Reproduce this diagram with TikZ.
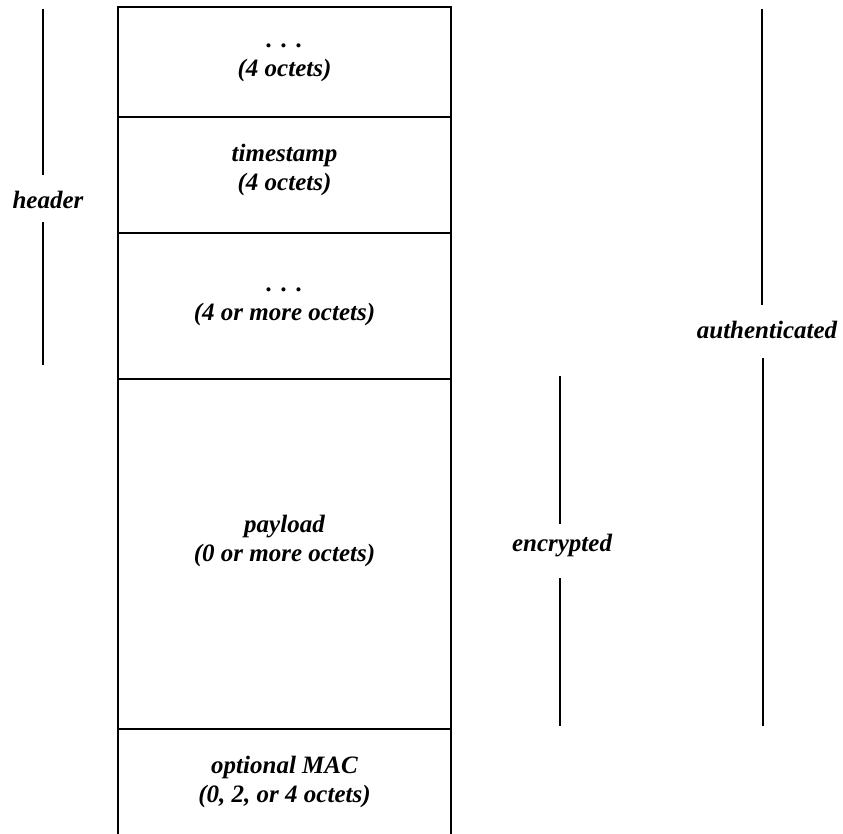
\documentclass[tikz,border=0pt]{standalone}
\usepackage{fontspec}
\setmainfont{Liberation Serif}
\begin{document}
\begin{tikzpicture}[x=1pt,y=-1pt,
  lbl/.style={font=\fontsize{25}{29}\selectfont\bfseries\itshape, align=center, inner sep=0pt},
  cell/.style={draw, line width=1.8pt, minimum width=333pt, inner sep=0pt},
  cellopen/.style={minimum width=333pt, inner sep=0pt},
  bracket/.style={line width=1.4pt}]
\useasboundingbox (0,0) rectangle (843,834);
% cells
\node[cell, minimum height=110pt] (c1) at (284.5,62) {};
\node[cell, minimum height=116pt] (c2) at (284.5,175) {};
\node[cell, minimum height=146pt] (c3) at (284.5,306) {};
\node[cell, minimum height=350pt] (c4) at (284.5,554) {};
\node[cellopen, minimum height=111pt] (c5) at (284.5,784.5) {};
\draw[line width=1.8pt] (c5.south west) -- (c5.north west) -- (c5.north east) -- (c5.south east);
% texts
\node[lbl] (t1) at (284.5,63) {.\hspace{0.35em}.\hspace{0.35em}.\\(4 octets)};
\node[lbl] (t2) at (284.5,170) {timestamp\\(4 octets)};
\node[lbl] (t3) at (284.5,307) {.\hspace{0.35em}.\hspace{0.35em}.\\(4 or more octets)};
\node[lbl] (t4) at (284.5,541) {payload\\(0 or more octets)};
\node[lbl] (t5) at (284.5,782) {optional MAC\\(0, 2, or 4 octets)};
% header
\node[lbl] (hdr) at (48,200) {header};
\coordinate (h1) at (43,9);
\coordinate (h2) at (43,175);
\coordinate (h3) at (43,222);
\coordinate (h4) at (43,365);
\draw[bracket] (h1) -- (h2);
\draw[bracket] (h3) -- (h4);
% encrypted
\node[lbl] (enc) at (562,546) {encrypted};
\coordinate (e1) at (560,376);
\coordinate (e2) at (560,524);
\coordinate (e3) at (560,578);
\coordinate (e4) at (560,726);
\draw[bracket] (e1) -- (e2);
\draw[bracket] (e3) -- (e4);
% authenticated
\node[lbl] (auth) at (767,330) {authenticated};
\coordinate (a1) at (762,9);
\coordinate (a2) at (762,305);
\coordinate (a3) at (763,358);
\coordinate (a4) at (763,726);
\draw[bracket] (a1) -- (a2);
\draw[bracket] (a3) -- (a4);
\end{tikzpicture}
\end{document}
